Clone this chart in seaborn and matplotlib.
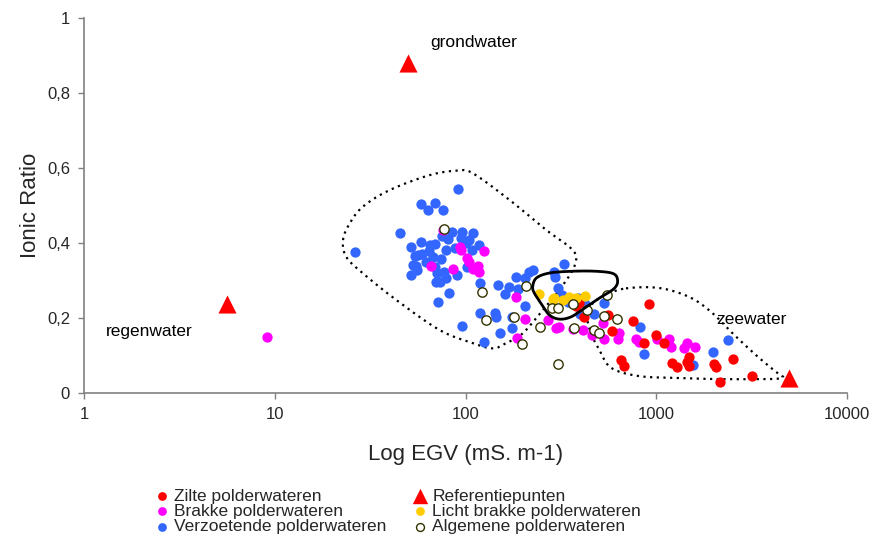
import numpy as np
import pandas as pd
import matplotlib
matplotlib.use("Agg")
import matplotlib.pyplot as plt
import seaborn as sns
from matplotlib.ticker import FixedLocator, FuncFormatter, NullLocator

sns.set_theme(style="white")
plt.rcParams["font.family"] = ["Liberation Sans", "DejaVu Sans"]

# ---------------- data ----------------
zilte_egv = [912, 751, 556, 420, 586, 996, 865, 1101, 653, 680, 1208, 1277, 1476, 1458,
             1489, 2013, 2056, 2530, 3170, 2156, 381, 395]
zilte_ratio = [0.237, 0.193, 0.208, 0.203, 0.166, 0.155, 0.133, 0.134, 0.088, 0.072, 0.081,
               0.069, 0.097, 0.083, 0.072, 0.077, 0.069, 0.090, 0.045, 0.029, 0.232, 0.240]

brakke_egv = [9.1, 76.1, 94.9, 93.8, 125.7, 101.6, 104.9, 115.9, 118.4, 109.2, 85.8, 66.1,
              184.2, 205.4, 185.4, 269.8, 298.5, 310.6, 364.6, 411.2, 523.6, 534.1, 640.1,
              627.0, 783.1, 814.6, 1004, 1170, 1194, 1442, 1403, 1600, 460.3]
brakke_ratio = [0.149, 0.435, 0.381, 0.390, 0.379, 0.359, 0.350, 0.339, 0.323, 0.331, 0.331,
                0.339, 0.257, 0.197, 0.146, 0.195, 0.173, 0.177, 0.170, 0.168, 0.186, 0.143,
                0.159, 0.143, 0.143, 0.137, 0.143, 0.143, 0.123, 0.134, 0.119, 0.122, 0.155]

verzoet_egv = [91.1, 58.6, 69.4, 63.5, 76.4, 45.1, 26.2, 85.2, 75.5, 80.8, 94.9, 109.2, 100.9,
               118.4, 58.1, 68.8, 51.5, 54.1, 59.3, 64.0, 67.4, 74.6, 54.7, 55.6, 51.9, 69.1,
               70.8, 77.0, 78.6, 70.3, 101.6, 90.5, 81.5, 71.6, 119.4, 148.4, 169.9, 160.6,
               184.2, 205.4, 216.4, 227.1, 329.6, 292.4, 295.1, 187.8, 205.4, 119.4, 143.1,
               144.8, 175.4, 95.6, 175.4, 152.0, 124.7, 304.1, 320.6, 343.4, 387.3, 398.4,
               424.6, 473.2, 534.1, 824.4, 858.3, 1987, 2392, 1563, 56.1, 52.8, 73.1, 61.8,
               64.8, 79.5, 87.6, 104.9, 96.4, 108.8]
verzoet_ratio = [0.544, 0.503, 0.507, 0.488, 0.488, 0.427, 0.376, 0.430, 0.419, 0.410, 0.414,
                 0.427, 0.399, 0.395, 0.403, 0.397, 0.389, 0.365, 0.370, 0.379, 0.363, 0.357,
                 0.339, 0.328, 0.315, 0.337, 0.319, 0.323, 0.306, 0.297, 0.335, 0.315, 0.267,
                 0.243, 0.293, 0.288, 0.282, 0.264, 0.310, 0.306, 0.323, 0.328, 0.344, 0.322,
                 0.310, 0.277, 0.233, 0.213, 0.214, 0.203, 0.203, 0.179, 0.174, 0.159, 0.135,
                 0.279, 0.261, 0.243, 0.253, 0.211, 0.237, 0.211, 0.241, 0.177, 0.104, 0.110,
                 0.141, 0.074, 0.368, 0.341, 0.297, 0.349, 0.395, 0.381, 0.387, 0.408, 0.429,
                 0.381]

licht_egv = [243.9, 286.4, 350.5, 424.6, 323.1, 379.5, 292.4]
licht_ratio = [0.264, 0.250, 0.257, 0.259, 0.248, 0.253, 0.253]

algemeen_egv = [77.6, 121.7, 128.3, 180.5, 207.8, 246.0, 197.2, 306.7, 284.4, 304.1, 364.6,
                372.4, 433.5, 473.2, 498.9, 548.6, 534.1, 619.6]
algemeen_ratio = [0.437, 0.270, 0.195, 0.203, 0.285, 0.177, 0.130, 0.077, 0.227, 0.227, 0.237,
                  0.173, 0.221, 0.168, 0.159, 0.261, 0.205, 0.197]

ref_egv = [5.6, 49.7, 4970]
ref_ratio = [0.237, 0.88, 0.04]

# hand-drawn envelopes (EGV, ratio)
zoet_env_egv = [22.8, 24.7, 29.0, 40.0, 64.8, 91.1, 109.2, 170, 264.6, 350, 380, 364.6,
                310.6, 253.9, 199.5, 163.4, 139, 109.2, 73.1, 43.4, 29.0, 23.7]
zoet_env_ratio = [0.408, 0.452, 0.497, 0.541, 0.581, 0.593, 0.586, 0.515, 0.435, 0.390, 0.363,
                  0.328, 0.275, 0.221, 0.159, 0.133, 0.119, 0.133, 0.168, 0.248, 0.319, 0.363]

licht_env_egv = [225, 234.5, 269.7, 336.6, 464, 590.5, 627, 602.6, 503, 419.8, 357.6, 310.6,
                 275.4, 249, 229.8]
licht_env_ratio = [0.283, 0.306, 0.319, 0.324, 0.325, 0.319, 0.301, 0.279, 0.253, 0.226,
                   0.203, 0.197, 0.208, 0.239, 0.266]

zee_env_egv = [694, 1037, 1489, 1941, 2562, 3420, 4400, 4624, 4300, 3420, 2137, 1319, 815,
               581, 503, 457, 435, 457, 541]
zee_env_ratio = [0.279, 0.280, 0.256, 0.216, 0.155, 0.096, 0.050, 0.043, 0.038, 0.037, 0.037,
                 0.040, 0.045, 0.067, 0.115, 0.157, 0.200, 0.235, 0.261]

annot_text = ["grondwater", "regenwater", "zeewater"]
annot_egv = [111, 2.2, 3140]
annot_ratio = [0.936, 0.163, 0.195]

x_ticks = [1, 10, 100, 1000, 10000]
y_ticks = [0, 0.2, 0.4, 0.6, 0.8, 1.0]


def smooth_closed(xs, ys, n=24):
    P = np.column_stack([np.log10(xs), np.asarray(ys, float)])
    m = len(P)
    t = np.linspace(0, 1, n, endpoint=False)[:, None]
    out = []
    for i in range(m):
        p0, p1, p2, p3 = P[i - 1], P[i], P[(i + 1) % m], P[(i + 2) % m]
        seg = 0.5 * ((2 * p1) + (-p0 + p2) * t + (2 * p0 - 5 * p1 + 4 * p2 - p3) * t ** 2
                     + (-p0 + 3 * p1 - 3 * p2 + p3) * t ** 3)
        out.append(seg)
    out.append(P[:1])
    out = np.vstack(out)
    return 10 ** out[:, 0], out[:, 1]


fig = plt.figure(figsize=(8.71, 5.38), dpi=100)
ax = fig.add_axes([84 / 871, 1 - 393 / 538, (847 - 84) / 871, (393 - 18) / 538])
ax.set_xscale("log")

# envelopes
ex, ey = smooth_closed(zoet_env_egv, zoet_env_ratio)
ax.plot(ex, ey, color="black", lw=1.6, ls=(0, (1, 2)), zorder=1)
ex, ey = smooth_closed(zee_env_egv, zee_env_ratio)
ax.plot(ex, ey, color="black", lw=1.6, ls=(0, (1, 2)), zorder=1)
ex, ey = smooth_closed(licht_env_egv, licht_env_ratio)
ax.plot(ex, ey, color="black", lw=2.0, zorder=5)

S = 55
sns.scatterplot(x=verzoet_egv, y=verzoet_ratio, ax=ax, color="#3366FF", s=S, linewidth=0,
                label="Verzoetende polderwateren", zorder=2)
sns.scatterplot(x=brakke_egv, y=brakke_ratio, ax=ax, color="#FF00FF", s=S, linewidth=0,
                label="Brakke polderwateren", zorder=3)
sns.scatterplot(x=zilte_egv, y=zilte_ratio, ax=ax, color="#FF0000", s=S, linewidth=0,
                label="Zilte polderwateren", zorder=3)
sns.scatterplot(x=licht_egv, y=licht_ratio, ax=ax, color="#FFCC00", s=S, linewidth=0,
                label="Licht brakke polderwateren", zorder=3)
sns.scatterplot(x=algemeen_egv, y=algemeen_ratio, ax=ax, facecolor="white", edgecolor="#333300",
                s=45, linewidth=1.0, label="Algemene polderwateren", zorder=4)
sns.scatterplot(x=ref_egv, y=ref_ratio, ax=ax, color="#FF0000", marker="^", s=170, linewidth=0,
                label="Referentiepunten", zorder=6)

for t, xv, yv in zip(annot_text, annot_egv, annot_ratio):
    ax.text(xv, yv, t, ha="center", va="center", fontsize=12.5, color="black")

ax.set_xlim(1, 10000)
ax.set_ylim(0, 1)
ax.xaxis.set_major_locator(FixedLocator(x_ticks))
ax.xaxis.set_minor_locator(NullLocator())
ax.xaxis.set_major_formatter(FuncFormatter(lambda v, _: f"{int(round(v))}"))
ax.yaxis.set_major_locator(FixedLocator(y_ticks))
ax.yaxis.set_major_formatter(FuncFormatter(
    lambda v, _: "0" if v == 0 else ("1" if v == 1 else f"{v:.1f}".replace(".", ","))))

for side in ["top", "right"]:
    ax.spines[side].set_visible(False)
for side in ["left", "bottom"]:
    ax.spines[side].set_color("#808080")
    ax.spines[side].set_linewidth(1.2)
ax.tick_params(axis="both", direction="out", length=4, width=1, color="#808080",
               labelsize=12, pad=6, left=True, bottom=True)

ax.set_xlabel("Log EGV (mS. m-1)", fontsize=16, labelpad=16)
ax.set_ylabel("Ionic Ratio", fontsize=16, labelpad=4)

handles, labels = ax.get_legend_handles_labels()
order = ["Zilte polderwateren", "Brakke polderwateren", "Verzoetende polderwateren",
         "Referentiepunten", "Licht brakke polderwateren", "Algemene polderwateren"]
hmap = dict(zip(labels, handles))
ax.get_legend().remove()
fig.legend([hmap[k] for k in order], order, ncol=2, loc="upper left",
           bbox_to_anchor=(146 / 871, 1 - 480 / 538), frameon=False, fontsize=12.5,
           labelspacing=0.0, handletextpad=0.3, handlelength=0.8, columnspacing=1.55,
           borderpad=0, markerscale=0.85)

fig.savefig("out.png", dpi=100)
